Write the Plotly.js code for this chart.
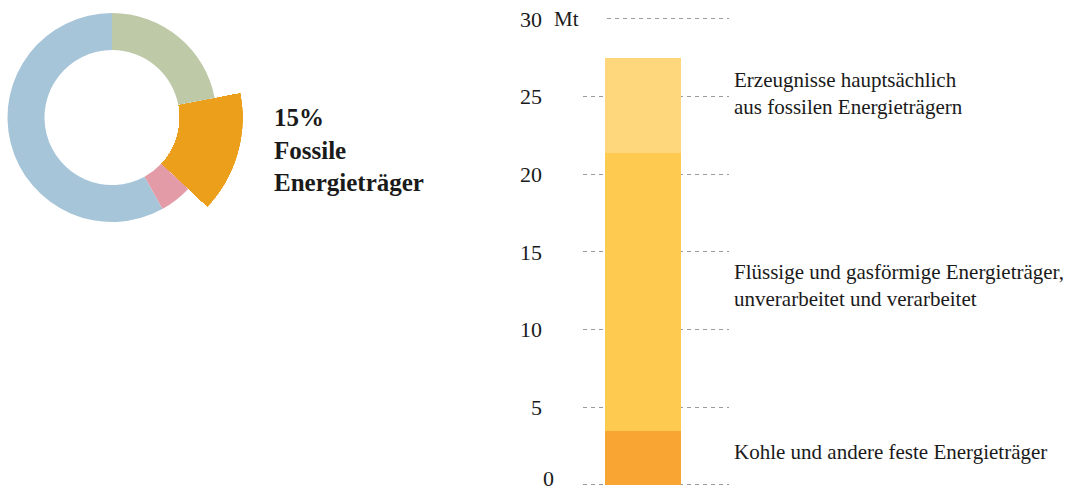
<!DOCTYPE html>
<html><head><meta charset="utf-8">
<script src="https://cdn.plot.ly/plotly-3.0.1.min.js"></script>
<style>html,body{margin:0;padding:0;background:#fff}#chart{width:1065px;height:492px}</style>
</head><body><div id="chart"></div>
<script>
// ---- data ----
const donutLabels = ['Anteil 1', 'Fossile Energieträger', 'Anteil 3', 'Anteil 4'];
const donutValues = [22, 15, 5, 58];
const donutColors = ['#bec9a7', '#ec9f1a', '#e39ca7', '#a7c5d8'];
const highlightIndex = 1;
const highlightLines = ['15%', 'Fossile', 'Energieträger'];

const stackCategories = ['Kohle', 'Flüssig/gasförmig', 'Erzeugnisse'];
const stackValues = [3.5, 17.9, 6.1];
const stackColors = ['#f9a533', '#feca4f', '#fed67c'];
const stackLabelLines = [
  ['Kohle und andere feste Energieträger'],
  ['Flüssige und gasförmige Energieträger,', 'unverarbeitet und verarbeitet'],
  ['Erzeugnisse hauptsächlich', 'aus fossilen Energieträgern']
];
const yTickVals = [0, 5, 10, 15, 20, 25, 30];
const yTickText = ['0', '5', '10', '15', '20', '25', '30'];
const unitLabel = 'Mt';

// ---- geometry (px) ----
const W = 1065, H = 492;
const CX = 112, CY = 117.5, R_OUT = 104.5, R_IN = 67.5, R_HI = 131;
const FONT = '"Liberation Serif", "Times New Roman", serif';

function sectorBBox(sector) {
  const rad = d => d * Math.PI / 180;
  const mod = (v, d) => ((v % d) + d) % d;
  const arc = sector[1] - sector[0];
  const a0 = mod(sector[0], 360), a1 = a0 + arc;
  const ax0 = Math.cos(rad(a0)), ay0 = Math.sin(rad(a0));
  const ax1 = Math.cos(rad(a1)), ay1 = Math.sin(rad(a1));
  let x0, y0, x1, y1;
  if ((a0 <= 90 && a1 >= 90) || (a0 > 90 && a1 >= 450)) y1 = 1;
  else if (ay0 <= 0 && ay1 <= 0) y1 = 0; else y1 = Math.max(ay0, ay1);
  if ((a0 <= 180 && a1 >= 180) || (a0 > 180 && a1 >= 540)) x0 = -1;
  else if (ax0 >= 0 && ax1 >= 0) x0 = 0; else x0 = Math.min(ax0, ax1);
  if ((a0 <= 270 && a1 >= 270) || (a0 > 270 && a1 >= 630)) y0 = -1;
  else if (ay0 >= 0 && ay1 >= 0) y0 = 0; else y0 = Math.min(ay0, ay1);
  if (a1 >= 360) x1 = 1;
  else if (ax0 <= 0 && ax1 <= 0) x1 = 0; else x1 = Math.max(ax0, ax1);
  return [x0, y0, x1, y1];
}

const total = donutValues.reduce((a, b) => a + b, 0);
const before = donutValues.slice(0, highlightIndex).reduce((a, b) => a + b, 0);
const angStart = before / total * 360;
const angEnd = (before + donutValues[highlightIndex]) / total * 360;
const sector = [90 - angEnd - 0.5, 90 - angStart + 0.5];
const bb = sectorBBox(sector);
const polarDomain = {
  x: [(CX + R_HI * bb[0]) / W, (CX + R_HI * bb[2]) / W],
  y: [1 - (CY - R_HI * bb[1]) / H, 1 - (CY - R_HI * bb[3]) / H]
};

const pieColors = donutColors.map((c, i) => i === highlightIndex ? 'rgba(0,0,0,0)' : c);

const traces = [];
traces.push({
  type: 'barpolar', subplot: 'polar',
  r: [R_HI - R_IN], base: [R_IN],
  theta: [(angStart + angEnd) / 2], width: [angEnd - angStart],
  marker: { color: donutColors[highlightIndex], line: { width: 0 } },
  hoverinfo: 'skip', showlegend: false
});
traces.push({
  type: 'pie', labels: donutLabels, values: donutValues, sort: false,
  direction: 'clockwise', rotation: 0, hole: R_IN / R_OUT,
  marker: { colors: pieColors, line: { width: 0 } },
  textinfo: 'none', hoverinfo: 'skip', showlegend: false,
  domain: { x: [(CX - R_OUT) / W, (CX + R_OUT) / W], y: [1 - (CY + R_OUT) / H, 1 - (CY - R_OUT) / H] }
});
stackValues.forEach((v, i) => {
  traces.push({
    type: 'bar', x: [0], y: [v], name: stackCategories[i], width: 1,
    marker: { color: stackColors[i], line: { width: 0 } },
    hoverinfo: 'skip', showlegend: false
  });
});

// bar x range so bar spans 605..681 inside axis 583..729
const pxPerUnit = 76;
const xr0 = -0.5 - (605 - 583) / pxPerUnit;
const xr1 = xr0 + (729 - 583) / pxPerUnit;

// y axis: value 0 at px 485, 30 at px 19; pad range slightly so edge gridlines are drawn
const Y0PX = 485, Y30PX = 19, YPAD = 0.1;
const yMax = yTickVals[yTickVals.length - 1];
const pxPerY = (Y0PX - Y30PX) / yMax;
const yDomain = [1 - (Y0PX + YPAD * pxPerY) / H, 1 - (Y30PX - YPAD * pxPerY) / H];

// the bottom tick label sits at the page edge: draw it as an annotation kept inside
const axisTickText = yTickText.map((t, i) => i === 0 ? '' : t);

const annotations = [];
annotations.push({
  xref: 'paper', yref: 'paper', x: 272 / W, y: 1 - 150 / H, xanchor: 'left', yanchor: 'middle',
  align: 'left', showarrow: false, text: '<b>' + highlightLines.join('<br>') + '</b>',
  font: { family: FONT, size: 25, color: '#1a1a1a' }
});
annotations.push({
  xref: 'paper', yref: 'y', x: 552 / W, y: yMax, xanchor: 'left', yanchor: 'middle',
  showarrow: false, text: unitLabel, font: { family: FONT, size: 21, color: '#1a1a1a' }
});
annotations.push({
  xref: 'paper', yref: 'paper', x: 555 / W, y: 0, xanchor: 'right', yanchor: 'bottom',
  showarrow: false, text: yTickText[0], borderpad: 0,
  font: { family: FONT, size: 22, color: '#1a1a1a' }
});
const labelShift = [6, 6.5, 12];
let cum = 0;
stackValues.forEach((v, i) => {
  const mid = cum + v / 2; cum += v;
  annotations.push({
    xref: 'paper', yref: 'y', x: 732 / W, y: mid, yshift: labelShift[i], xanchor: 'left', yanchor: 'middle',
    align: 'left', showarrow: false, text: stackLabelLines[i].join('<br>'),
    font: { family: FONT, size: 21, color: '#1a1a1a' }
  });
});

const layout = {
  width: W, height: H, margin: { l: 0, r: 0, t: 0, b: 0 },
  paper_bgcolor: '#fff', plot_bgcolor: 'rgba(0,0,0,0)',
  barmode: 'stack', bargap: 0,
  font: { family: FONT, color: '#1a1a1a' },
  xaxis: { domain: [583 / W, 729 / W], range: [xr0, xr1], visible: false, fixedrange: true },
  yaxis: {
    domain: yDomain, range: [-YPAD, yMax + YPAD],
    tickvals: yTickVals, ticktext: axisTickText, ticks: '', ticklabelstandoff: 40,
    showgrid: true, gridcolor: '#9a9a9a', gridwidth: 1, griddash: '4px,4px',
    zeroline: false, showline: false,
    tickfont: { family: FONT, size: 22, color: '#1a1a1a' }, fixedrange: true
  },
  polar: {
    domain: polarDomain, sector: sector, bgcolor: 'rgba(0,0,0,0)', hole: 0,
    radialaxis: { visible: false, range: [0, R_HI] },
    angularaxis: { visible: false, rotation: 90, direction: 'clockwise' }
  },
  shapes: [{
    type: 'rect', xref: 'paper', yref: 'paper', x0: 581 / W, x1: 606 / W,
    y0: 1 - 22 / H, y1: 1 - 16 / H, fillcolor: '#fff', line: { width: 0 }, layer: 'above'
  }],
  annotations: annotations
};

Plotly.newPlot('chart', traces, layout, { staticPlot: true, displayModeBar: false });
</script>
</body></html>
